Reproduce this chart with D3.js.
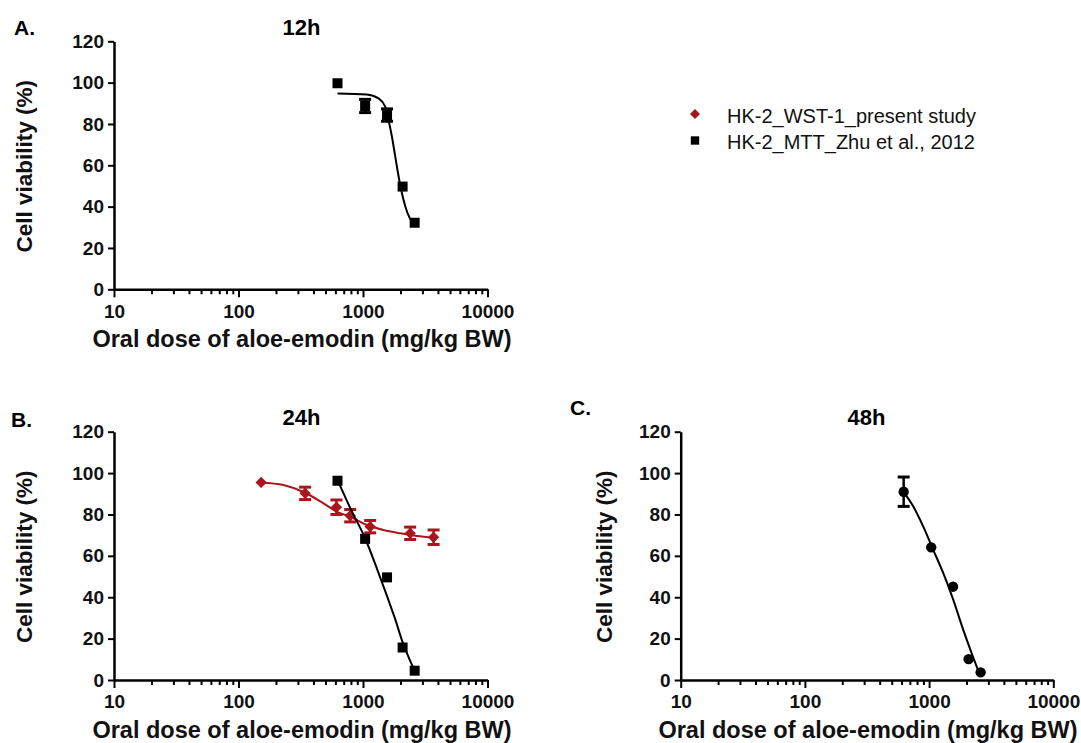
<!DOCTYPE html>
<html>
<head>
<meta charset="utf-8">
<script src="https://cdn.jsdelivr.net/npm/d3@7"></script>
<style>
    body { margin: 0; background: #fff; }
    svg { display: block; font-family: "Liberation Sans", Arial, sans-serif; }
</style>
</head>
<body>
<div id="chart"></div>
<script>
// 12h - Zhu et al. 2012 (MTT)
const doses12 = [624, 1040, 1560, 2080, 2600];
const viab12 = [99.7, 88.7, 84.3, 49.7, 32.2];
const err12 = [0, 3.2, 3.0, 0, 0];
const fitDose12 = [624, 1074, 1333, 1508, 1603, 1708, 1816, 1955, 2117, 2280, 2518];
const fitViab12 = [94.8, 94.3, 92.4, 88.4, 81.9, 73.8, 64.2, 52.9, 43.2, 36.8, 31.9];

// 24h - Zhu et al. 2012 (MTT)
const doses24 = [624, 1040, 1560, 2080, 2600];
const viab24 = [96.3, 68.2, 49.6, 15.7, 4.5];
const err24 = [0, 0, 0, 0, 0];
const fitDose24 = [624, 800, 1040, 1300, 1560, 1800, 2080, 2350, 2600];
const fitViab24 = [96.7, 82.4, 68.5, 53.5, 40.5, 30.0, 18.3, 10.3, 4.5];

// 24h - present study (WST-1)
const dosesWst = [152, 343, 612, 789, 1142, 2393, 3690];
const viabWst = [95.5, 90.2, 83.5, 79.4, 74.1, 70.9, 69.0];
const errWst = [0, 3.0, 3.5, 3.0, 3.0, 3.0, 3.5];
const fitDoseWst = [152, 230, 343, 481, 617, 789, 1074, 1462, 1991, 2711, 3690];
const fitViabWst = [95.5, 94.2, 90.5, 85.4, 81.3, 78.9, 74.9, 72.5, 70.9, 69.6, 68.8];

// 48h - Zhu et al. 2012 (MTT)
const doses48 = [624, 1040, 1560, 2080, 2600];
const viab48 = [91.0, 64.1, 45.1, 10.1, 3.7];
const err48 = [7.1, 0, 0, 0, 0];
const fitDose48 = [624, 747, 898, 1081, 1301, 1566, 1884, 2202, 2536];
const fitViab48 = [90.8, 83.8, 74.1, 62.8, 51.6, 38.7, 24.2, 12.9, 3.2];

const yTicks = [0, 20, 40, 60, 80, 100, 120];
const xTicks = [10, 100, 1000, 10000];
const xMinor = [20, 30, 40, 50, 60, 70, 80, 90, 200, 300, 400, 500, 600, 700, 800, 900,
    2000, 3000, 4000, 5000, 6000, 7000, 8000, 9000];
const legendLabels = ["HK-2_WST-1_present study", "HK-2_MTT_Zhu et al., 2012"];

const red = "#a8161b";
const font = '"Liberation Sans", Arial, sans-serif';

const svg = d3.select("#chart").append("svg")
    .attr("width", 1081)
    .attr("height", 743);

function zip(xs, ys, es) {
    return xs.map((x, i) => ({ x: x, y: ys[i], e: es ? es[i] : 0 }));
}

function drawPanel(p) {
    const x = d3.scaleLog().domain([10, 10000]).range([p.x0, p.x1]);
    const y = d3.scaleLinear().domain([0, 120]).range([p.y0, p.y1]);

    // minor log ticks
    svg.append("g")
        .attr("transform", `translate(0, ${p.y0})`)
        .call(d3.axisBottom(x).tickValues(xMinor).tickSize(5).tickFormat(""))
        .call(g => g.select(".domain").remove())
        .call(g => g.selectAll("line").attr("stroke-width", 2));

    const xa = svg.append("g")
        .attr("transform", `translate(0, ${p.y0})`)
        .call(d3.axisBottom(x).tickValues(xTicks).tickSize(8).tickSizeOuter(0)
            .tickPadding(7).tickFormat(d3.format("d")));
    xa.select(".domain").attr("stroke-width", 2.5);
    xa.selectAll("line").attr("stroke-width", 2);
    xa.selectAll("text")
        .style("font-family", font)
        .style("font-size", "19px")
        .style("font-weight", "bold")
        .attr("fill", "#111");

    const ya = svg.append("g")
        .attr("transform", `translate(${p.x0}, 0)`)
        .call(d3.axisLeft(y).tickValues(yTicks).tickSize(6).tickSizeOuter(0).tickPadding(4));
    ya.select(".domain").attr("stroke-width", 2.5);
    ya.selectAll("line").attr("stroke-width", 2);
    ya.selectAll("text")
        .style("font-family", font)
        .style("font-size", "19px")
        .style("font-weight", "bold")
        .attr("fill", "#111");

    svg.append("text")
        .attr("x", p.titleX)
        .attr("y", p.titleY)
        .attr("text-anchor", "middle")
        .style("font-size", "22px")
        .style("font-weight", "bold")
        .text(p.title);

    svg.append("text")
        .attr("x", p.letterX)
        .attr("y", p.letterY)
        .style("font-size", "21px")
        .style("font-weight", "bold")
        .text(p.letter);

    svg.append("text")
        .attr("x", p.xLabelX)
        .attr("y", p.y0 + 58)
        .attr("text-anchor", "middle")
        .style("font-size", "23.5px")
        .style("font-weight", "bold")
        .attr("fill", "#111")
        .text("Oral dose of aloe-emodin (mg/kg BW)");

    svg.append("text")
        .attr("transform", `translate(${p.yLabelX}, ${(p.y0 + p.y1) / 2 + 1}) rotate(-90)`)
        .attr("text-anchor", "middle")
        .style("font-size", "22.5px")
        .style("font-weight", "bold")
        .attr("fill", "#111")
        .text("Cell viability (%)");

    const line = d3.line()
        .x(d => x(d.x))
        .y(d => y(d.y))
        .curve(d3.curveMonotoneX);

    p.series.forEach(s => {
        svg.append("path")
            .datum(zip(s.fitX, s.fitY))
            .attr("fill", "none")
            .attr("stroke", s.color)
            .attr("stroke-width", 2)
            .attr("d", line);

        const pts = zip(s.xs, s.ys, s.es);
        const eb = svg.append("g").attr("stroke", s.color);
        pts.filter(d => d.e > 0).forEach(d => {
            const cx = x(d.x);
            eb.append("line")
                .attr("x1", cx).attr("x2", cx)
                .attr("y1", y(d.y - d.e)).attr("y2", y(d.y + d.e))
                .attr("stroke-width", 2.5);
            [d.y - d.e, d.y + d.e].forEach(v => {
                eb.append("line")
                    .attr("x1", cx - 6).attr("x2", cx + 6)
                    .attr("y1", y(v)).attr("y2", y(v))
                    .attr("stroke-width", 3);
            });
        });

        svg.selectAll(null)
            .data(pts)
            .enter().append("path")
            .attr("transform", d => `translate(${x(d.x)}, ${y(d.y)})` + (s.shape === "diamond" ? " rotate(45)" : ""))
            .attr("d", d3.symbol().type(s.shape === "circle" ? d3.symbolCircle : d3.symbolSquare).size(s.size))
            .attr("fill", s.color);
    });
}

drawPanel({
    x0: 114, x1: 487.5, y0: 289.3, y1: 41.3,
    title: "12h", titleX: 301.5, titleY: 35,
    letter: "A.", letterX: 14, letterY: 35,
    xLabelX: 302, yLabelX: 32,
    series: [
        { xs: doses12, ys: viab12, es: err12, fitX: fitDose12, fitY: fitViab12, color: "#000", shape: "square", size: 100 }
    ]
});

drawPanel({
    x0: 114, x1: 487.5, y0: 680, y1: 431.7,
    title: "24h", titleX: 301.5, titleY: 425,
    letter: "B.", letterX: 11, letterY: 427,
    xLabelX: 302, yLabelX: 32,
    series: [
        { xs: dosesWst, ys: viabWst, es: errWst, fitX: fitDoseWst, fitY: fitViabWst, color: red, shape: "diamond", size: 64 },
        { xs: doses24, ys: viab24, es: err24, fitX: fitDose24, fitY: fitViab24, color: "#000", shape: "square", size: 100 }
    ]
});

drawPanel({
    x0: 680.7, x1: 1053.3, y0: 680, y1: 431.7,
    title: "48h", titleX: 866.5, titleY: 425,
    letter: "C.", letterX: 570, letterY: 415,
    xLabelX: 868, yLabelX: 612,
    series: [
        { xs: doses48, ys: viab48, es: err48, fitX: fitDose48, fitY: fitViab48, color: "#000", shape: "circle", size: 85 }
    ]
});

// legend
const legend = svg.append("g");
const legendShapes = [
    { color: red, rot: 45, size: 50 },
    { color: "#000", rot: 0, size: 70 }
];
legendLabels.forEach((label, i) => {
    const ly = 114 + i * 26.5;
    legend.append("path")
        .attr("transform", `translate(695, ${ly}) rotate(${legendShapes[i].rot})`)
        .attr("d", d3.symbol().type(d3.symbolSquare).size(legendShapes[i].size))
        .attr("fill", legendShapes[i].color);
    legend.append("text")
        .attr("x", 727)
        .attr("y", ly + 4.5)
        .attr("dy", "0.2em")
        .style("font-size", "20px")
        .attr("fill", "#111")
        .text(label);
});
</script>
</body>
</html>
